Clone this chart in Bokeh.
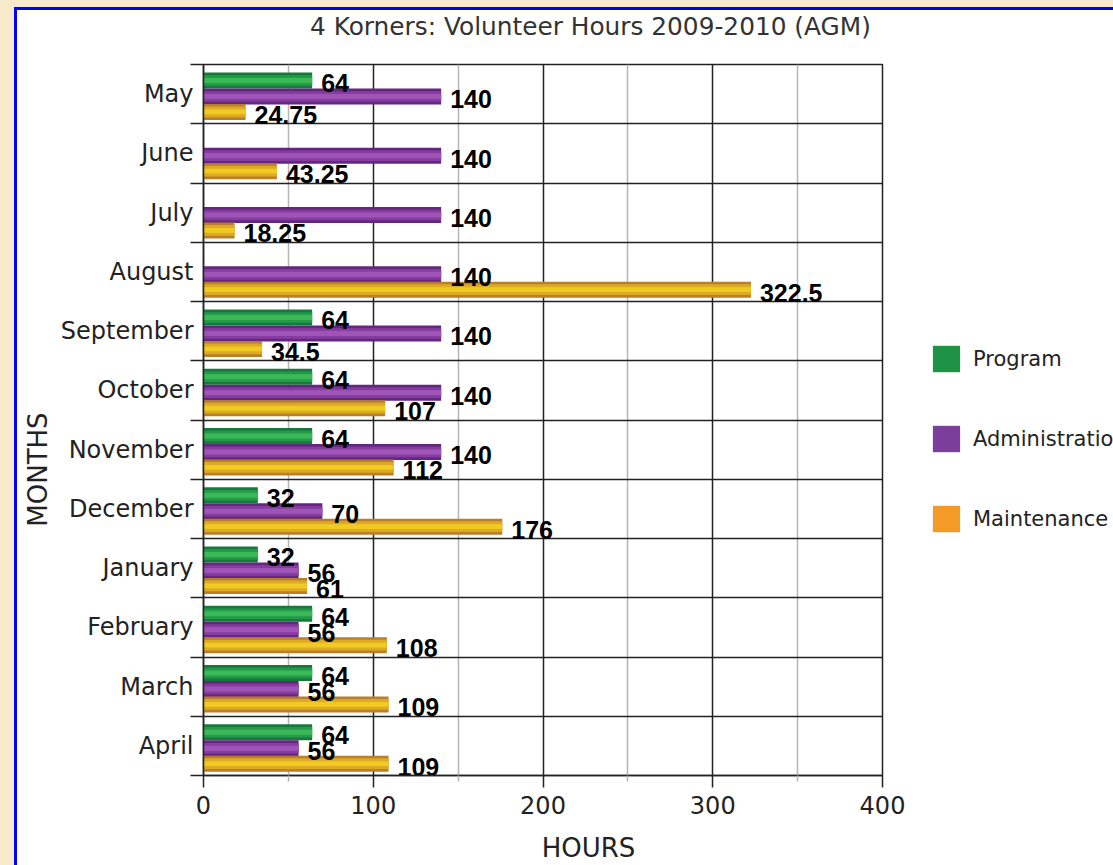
from bokeh.plotting import figure
from bokeh.models import (Range1d, FixedTicker, Legend, LegendItem, ColumnDataSource,
                          Column, Row, Div)
from bokeh.core.properties import value
from bokeh.embed import file_html
from bokeh.resources import INLINE

# ---------------- data ----------------
title_text = "4 Korners: Volunteer Hours 2009-2010 (AGM)"
months = ["May", "June", "July", "August", "September", "October", "November",
          "December", "January", "February", "March", "April"]
program = [64, None, None, None, 64, 64, 64, 32, 32, 64, 64, 64]
administration = [140, 140, 140, 140, 140, 140, 140, 70, 56, 56, 56, 56]
maintenance = [24.75, 43.25, 18.25, 322.5, 34.5, 107, 112, 176, 61, 108, 109, 109]
series_names = ["Program", "Administration", "Maintenance"]
x_ticks = [0, 100, 200, 300, 400]
x_minor = [50, 150, 250, 350]
x_title = "HOURS"
y_title = "MONTHS"

# ---------------- style ----------------
FONT = "DejaVu Sans"
BOLD = "Liberation Sans"
NBSP = "\u00a0"
shades = {
    "Program": ("#157a3a", "#249a4b", "#3cb957"),
    "Administration": ("#642781", "#873d9f", "#9f55b7"),
    "Maintenance": ("#bb7f2a", "#dcaa26", "#f1cb22"),
}
legend_colors = {"Program": "#1e9345", "Administration": "#7b3f9b", "Maintenance": "#f39a27"}
offsets = {"Program": 0.27, "Administration": 0.54, "Maintenance": 0.80}
BAR_H = 0.27

series_values = {"Program": program, "Administration": administration,
                 "Maintenance": maintenance}
sources = {}
for name in series_names:
    vals = series_values[name]
    ys = [i + offsets[name] for i, v in enumerate(vals) if v is not None]
    xs = [v for v in vals if v is not None]
    sources[name] = ColumnDataSource(dict(y=ys, right=xs, label=[f"{v:g}" for v in xs]))

# ---------------- main chart ----------------
p = figure(width=893, height=811, output_backend="svg", toolbar_location=None,
           x_range=Range1d(0, 400), y_range=Range1d(12, 0),
           min_border_left=186, min_border_right=28, min_border_top=10,
           min_border_bottom=90, margin=0)
p.border_fill_color = "white"
p.background_fill_color = "white"

for name in series_names:
    src = sources[name]
    base, mid, light = shades[name]
    p.hbar(y="y", right="right", left=0, height=BAR_H, source=src,
           fill_color=base, line_color=None)
    p.hbar(y="y", right="right", left=0, height=BAR_H * 0.66, source=src,
           fill_color=mid, line_color=None)
    p.hbar(y="y", right="right", left=0, height=BAR_H * 0.3, source=src,
           fill_color=light, line_color=None)

for name in series_names:
    p.text(x="right", y="y", text="label", source=sources[name], x_offset=9, y_offset=3,
           text_font=value(BOLD), text_font_style="bold", text_font_size="25px",
           text_color="black", text_align="left", text_baseline="middle")

# grids
p.xgrid.ticker = FixedTicker(ticks=x_ticks, minor_ticks=x_minor)
p.xgrid.grid_line_color = "#222222"
p.xgrid.grid_line_width = 1.5
p.xgrid.minor_grid_line_color = "#b5b5b5"
p.xgrid.minor_grid_line_width = 1.5
p.ygrid.ticker = FixedTicker(ticks=list(range(len(months) + 1)))
p.ygrid.grid_line_color = "#222222"
p.ygrid.grid_line_width = 1.5
p.outline_line_color = "#222222"
p.outline_line_width = 1.5

# axes (axis titles sit off-centre in the original: padded with no-break spaces)
xa = p.xaxis[0]
xa.ticker = FixedTicker(ticks=x_ticks, minor_ticks=x_minor)
xa.axis_label = NBSP * 11 + x_title
xa.axis_label_text_font = FONT
xa.axis_label_text_font_size = "26px"
xa.axis_label_text_font_style = "normal"
xa.axis_label_text_color = "#222222"
xa.axis_label_standoff = 16
xa.major_label_text_font = FONT
xa.major_label_text_font_size = "24px"
xa.major_label_text_color = "#222222"
xa.major_label_standoff = 8
xa.major_tick_out = 12
xa.major_tick_in = 0
xa.minor_tick_out = 6
xa.minor_tick_in = 0
xa.axis_line_color = "#222222"
xa.axis_line_width = 1.5
xa.major_tick_line_color = "#222222"
xa.major_tick_line_width = 1.5
xa.minor_tick_line_color = "#b5b5b5"
xa.minor_tick_line_width = 1.5

ya = p.yaxis[0]
centers = [i + 0.5 for i in range(len(months))]
ya.ticker = FixedTicker(ticks=centers, minor_ticks=list(range(len(months) + 1)))
ya.major_label_overrides = {c: m for c, m in zip(centers, months)}
ya.axis_label = y_title + NBSP * 12
ya.axis_label_text_font = FONT
ya.axis_label_text_font_size = "26px"
ya.axis_label_text_font_style = "normal"
ya.axis_label_text_color = "#222222"
ya.axis_label_standoff = 5
ya.major_label_text_font = FONT
ya.major_label_text_font_size = "24px"
ya.major_label_text_color = "#222222"
ya.major_label_standoff = -3
ya.major_tick_out = 0
ya.major_tick_in = 0
ya.minor_tick_out = 13
ya.minor_tick_in = 0
ya.minor_tick_line_color = "#222222"
ya.minor_tick_line_width = 1.5
ya.axis_line_color = "#222222"
ya.axis_line_width = 1.5

# ---------------- legend panel ----------------
lf = figure(width=203, height=811, output_backend="svg", toolbar_location=None,
            x_range=Range1d(0, 400), y_range=Range1d(12, 0),
            min_border_left=0, min_border_right=0, min_border_top=0,
            min_border_bottom=0, margin=0)
lf.axis.visible = False
lf.grid.visible = False
lf.outline_line_color = None
lf.border_fill_color = "white"
lf.background_fill_color = "white"

legend_items = []
for name in series_names:
    r = lf.hbar(y="y", right="right", left=0, height=0, source=sources[name],
                fill_color=legend_colors[name], line_color=None)
    legend_items.append(LegendItem(label=name, renderers=[r]))

legend = Legend(items=legend_items, location=(9, 230), orientation="vertical",
                glyph_width=34, glyph_height=33, label_standoff=10, spacing=47,
                padding=10, margin=0, border_line_alpha=0, background_fill_alpha=0,
                label_text_font=FONT, label_text_font_size="21px",
                label_text_color="#222222")
lf.add_layout(legend, "center")

# ---------------- page ----------------
title = Div(text=title_text, width=1096, height=44, margin=0,
            styles={"font-family": "DejaVu Sans", "font-size": "24.8px",
                    "color": "#333333", "line-height": "34px",
                    "text-indent": "293px", "white-space": "nowrap"})

inner = Column(title, Row(p, lf, spacing=0), spacing=0,
               styles={"border-left": "3px solid #0000ff",
                       "border-top": "3px solid #0000ff",
                       "background-color": "white"})
page = Column(inner, styles={"background-color": "#f7e9cc", "padding-left": "14px",
                             "padding-top": "7px"})

open("out.html", "w").write(file_html(page, INLINE))
